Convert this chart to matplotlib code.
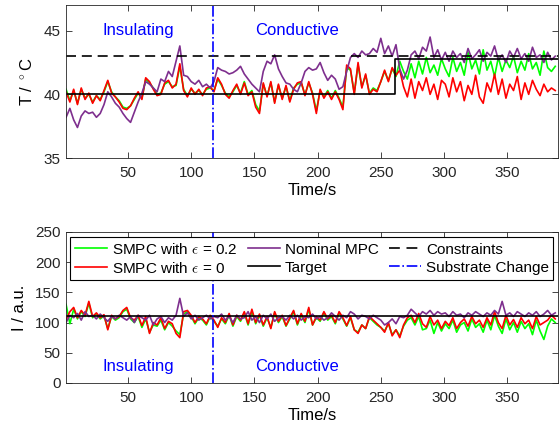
import numpy as np
import matplotlib
matplotlib.use('Agg')
import matplotlib.pyplot as plt

plt.rcParams['font.family'] = ['Liberation Sans', 'DejaVu Sans']
plt.rcParams['mathtext.fontset'] = 'cm'

# time samples (every 3 s)
t = np.arange(1, 391, 3)

# ---- temperature (top panel) ----
temp_red = [40.2, 39.4, 40.4, 39.2, 40.5, 39.6, 40.1, 39.3, 39.9, 39.5,
            40.3, 41.1, 40.1, 39.8, 39.4, 38.9, 38.8, 39.1, 39.7, 40.2,
            39.6, 41.3, 41.0, 40.4, 39.9, 40.0, 40.9, 41.1, 40.5, 40.8,
            42.4, 40.3, 39.8, 40.5, 40.0, 40.4, 39.9, 40.5, 40.6, 40.2,
            41.3, 40.8, 40.0, 39.7, 40.3, 40.8, 40.0, 40.9, 39.9, 40.2,
            39.0, 38.5, 40.9, 39.8, 41.0, 39.3, 40.8, 39.6, 40.7, 39.4,
            40.4, 40.9, 41.0, 39.9, 41.0, 40.0, 38.5, 40.4, 39.7, 40.2,
            39.6, 40.2, 39.6, 38.8, 42.3, 42.0, 40.0, 42.5, 40.5, 41.6,
            40.0, 40.4, 40.2, 41.0, 41.9, 41.0, 42.1, 41.5, 41.9, 40.6,
            39.8, 41.2, 39.7, 41.0, 40.3, 41.3, 40.0, 40.8, 39.6, 41.1,
            40.8, 39.8, 41.3, 40.2, 41.0, 39.5, 40.7, 40.0, 41.5, 39.8,
            39.3, 40.9, 40.2, 41.6, 40.0, 41.2, 39.7, 40.8, 40.3, 41.4,
            39.6, 40.9, 40.0, 41.1, 40.4, 39.9, 40.8, 40.2, 40.5, 40.3]
temp_green = [40.4, 39.5, 40.3, 39.3, 40.4, 39.7, 40.0, 39.4, 39.9, 39.6,
              40.2, 41.0, 40.2, 39.8, 39.5, 39.0, 38.9, 39.1, 39.6, 40.1,
              39.7, 41.2, 40.9, 40.5, 40.0, 40.1, 40.8, 41.0, 40.6, 40.7,
              42.2, 40.4, 39.9, 40.4, 40.1, 40.3, 40.0, 40.4, 40.5, 40.3,
              41.2, 40.7, 40.1, 39.8, 40.2, 40.7, 40.1, 41.0, 40.0, 40.3,
              39.2, 38.7, 40.8, 39.9, 40.9, 39.4, 40.7, 39.7, 40.6, 39.5,
              40.5, 40.8, 40.9, 40.0, 40.9, 40.1, 38.7, 40.3, 39.8, 40.3,
              39.7, 40.3, 39.7, 39.0, 42.1, 41.9, 40.1, 42.3, 40.6, 41.5,
              40.1, 40.5, 40.3, 41.0, 41.8, 41.1, 42.0, 41.4, 42.6, 41.8,
              41.2, 42.4, 41.3, 42.6, 41.6, 42.9, 41.7, 42.3, 41.5, 42.8,
              42.0, 41.4, 42.9, 41.8, 42.5, 41.5, 43.3, 42.0, 42.7, 41.6,
              43.5, 41.9, 42.6, 41.4, 42.9, 41.8, 42.7, 42.1, 43.0, 41.7,
              42.6, 41.9, 43.2, 42.0, 42.5, 41.5, 43.4, 42.1, 41.8, 42.2]
temp_purple = [38.2, 38.9, 38.0, 37.4, 38.3, 38.7, 38.5, 38.6, 38.2, 38.5,
               39.2, 40.2, 39.8, 39.3, 39.0, 38.5, 38.1, 37.8, 38.6, 39.4,
               40.1, 41.0, 40.8, 40.5, 40.2, 41.2, 41.0, 41.8, 41.4, 42.6,
               43.8, 41.5, 41.4, 41.0, 40.8, 41.1, 40.6, 40.8, 40.5, 41.0,
               42.1, 41.9, 41.8, 41.6, 41.7, 41.9, 42.2, 41.6, 41.2, 40.8,
               40.5, 40.2, 41.8, 42.6, 42.4, 43.1, 42.0, 41.4, 40.9, 40.8,
               40.4, 40.2, 40.9, 41.8, 42.1, 41.9, 42.0, 42.5, 41.7, 41.1,
               41.5, 41.2, 40.4, 40.6, 41.8, 42.9, 43.2, 42.9, 43.4, 43.1,
               43.2, 43.6, 43.3, 44.4, 43.2, 43.8, 43.0, 43.9, 42.0, 41.2,
               41.9, 43.1, 43.4, 42.8, 43.7, 43.4, 44.5, 42.9, 43.5, 42.7,
               43.3, 42.6, 43.4, 42.9, 43.2, 42.5, 43.6, 42.8, 43.1, 43.5,
               42.6, 43.3, 43.0, 43.8, 42.7, 43.1, 42.5, 43.4, 42.9, 43.6,
               42.8, 43.2, 42.6, 43.7, 42.9, 43.1, 42.5, 43.3, 42.7, 43.0]
target_t = [1, 261, 261, 390]
target_temp = [40, 40, 42.8, 42.8]
constraint_temp = 43

# ---- intensity (bottom panel) ----
int_red = [105, 118, 125, 108, 120, 112, 135, 110, 116, 108,
           113, 88, 112, 106, 110, 120, 125, 108, 104, 112,
           95, 110, 82, 100, 96, 108, 90, 102, 98, 82,
           75, 118, 120, 112, 100, 110, 106, 98, 112, 104,
           92, 108, 100, 115, 96, 112, 104, 118, 98, 122,
           100, 114, 96, 110, 90, 118, 102, 112, 95, 108,
           120, 98, 115, 102, 125, 96, 110, 104, 118, 106,
           112, 100, 118, 108, 95, 110, 88, 82, 96, 90,
           110, 104, 98, 92, 84, 100, 78, 88, 75, 96,
           108, 112, 100, 115, 98, 92, 110, 96, 104, 90,
           102, 95, 108, 90, 100, 106, 94, 110, 98, 104,
           92, 108, 96, 118, 100, 90, 112, 96, 105, 92,
           108, 98, 104, 90, 110, 96, 100, 104, 112, 106]
int_green = [130, 98, 122, 106, 118, 110, 132, 108, 114, 106,
             111, 90, 110, 104, 108, 118, 122, 106, 100, 110,
             92, 106, 84, 96, 94, 104, 88, 100, 94, 86,
             80, 114, 118, 110, 98, 108, 104, 96, 110, 102,
             94, 106, 98, 112, 94, 110, 102, 116, 96, 118,
             98, 112, 94, 108, 92, 116, 100, 110, 94, 106,
             118, 96, 112, 100, 122, 96, 108, 102, 116, 104,
             110, 98, 116, 106, 94, 108, 88, 84, 96, 90,
             108, 102, 96, 92, 86, 98, 80, 88, 78, 94,
             104, 108, 96, 110, 88, 90, 104, 82, 100, 86,
             98, 90, 104, 84, 96, 100, 86, 106, 92, 98,
             84, 104, 88, 112, 94, 82, 106, 88, 100, 84,
             102, 90, 98, 80, 104, 86, 72, 94, 106, 100]
int_purple = [100, 112, 108, 115, 104, 118, 110, 112, 106, 114,
              108, 102, 110, 106, 112, 108, 104, 110, 100, 112,
              108, 104, 112, 96, 106, 110, 100, 108, 104, 112,
              140, 110, 116, 106, 112, 104, 108, 112, 106, 110,
              108, 114, 104, 110, 100, 112, 106, 108, 118, 104,
              110, 100, 112, 106, 114, 102, 108, 110, 104, 112,
              106, 112, 104, 110, 108, 114, 106, 110, 104, 108,
              116, 110, 104, 112, 108, 118, 114, 106, 112, 110,
              106, 112, 108, 104, 96, 100, 106, 98, 110, 108,
              112, 122, 116, 110, 118, 114, 120, 112, 118, 114,
              116, 110, 118, 112, 114, 108, 116, 112, 118, 114,
              110, 116, 112, 120, 114, 135, 112, 116, 110, 118,
              114, 110, 116, 112, 118, 110, 114, 120, 112, 116]
target_int = 110
substrate_change = 117

purple = (0.494, 0.184, 0.556)
lw = 1.2
dash = (0, (6, 3.5))

fig = plt.figure(figsize=(5.6, 4.33), dpi=100)
ax1 = fig.add_axes([0.118, 0.635, 0.878, 0.353])
ax2 = fig.add_axes([0.118, 0.1155, 0.878, 0.349])

# top
ax1.plot(t, temp_green, color=(0, 1, 0), lw=lw)
ax1.plot(t, temp_red, color=(1, 0, 0), lw=lw)
ax1.plot(t, temp_purple, color=purple, lw=lw)
ax1.plot(target_t, target_temp, color='k', lw=lw)
ax1.axhline(constraint_temp, color='k', ls=dash, lw=lw)
ax1.axvline(substrate_change, color='b', ls='-.', lw=lw)
ax1.text(58, 45, 'Insulating', color='b', fontsize=12, ha='center', va='center')
ax1.text(184, 45, 'Conductive', color='b', fontsize=12, ha='center', va='center')
ax1.set_xlim(1, 390)
ax1.set_ylim(35, 47)
ax1.set_yticks([35, 40, 45])
ax1.set_ylabel(r'T / $^\circ$C', fontsize=12, labelpad=6)
ax1.set_xlabel('Time/s', fontsize=12, labelpad=2)

# bottom
l1, = ax2.plot(t, int_green, color=(0, 1, 0), lw=lw)
l2, = ax2.plot(t, int_red, color=(1, 0, 0), lw=lw)
l3, = ax2.plot(t, int_purple, color=purple, lw=lw)
l4 = ax2.axhline(target_int, color='k', lw=lw)
l5, = ax2.plot([], [], color='k', ls=(0, (6.5, 4)), lw=lw)
l6 = ax2.axvline(substrate_change, color='b', ls='-.', lw=lw)
ax2.text(58, 28, 'Insulating', color='b', fontsize=12, ha='center', va='center')
ax2.text(184, 28, 'Conductive', color='b', fontsize=12, ha='center', va='center')
ax2.set_xlim(1, 390)
ax2.set_ylim(0, 250)
ax2.set_yticks([0, 50, 100, 150, 200, 250])
ax2.set_ylabel('I / a.u.', fontsize=12, labelpad=6)
ax2.set_xlabel('Time/s', fontsize=12, labelpad=2)
leg = ax2.legend([l1, l2, l3, l4, l5, l6],
                 [r'SMPC with $\epsilon$ = 0.2', r'SMPC with $\epsilon$ = 0',
                  'Nominal MPC', 'Target', 'Constraints', 'Substrate Change'],
                 ncol=3, loc='upper center', bbox_to_anchor=(0.5, 0.975),
                 fontsize=11, frameon=True, fancybox=False, framealpha=1,
                 edgecolor='k', borderpad=0.3, labelspacing=0.25,
                 handlelength=2.1, columnspacing=0.7, handletextpad=0.3,
                 borderaxespad=0.1)
leg.get_frame().set_linewidth(0.8)

for ax in (ax1, ax2):
    ax.set_xticks([50, 100, 150, 200, 250, 300, 350])
    ax.tick_params(direction='in', top=True, right=True, labelsize=11,
                   colors='0.15', length=4, width=0.6)
    ax.tick_params(axis='x', pad=6)
    ax.tick_params(axis='y', pad=4)
    for s in ax.spines.values():
        s.set_color('0.15')
        s.set_linewidth(0.6)

fig.savefig('out.png', dpi=100)
